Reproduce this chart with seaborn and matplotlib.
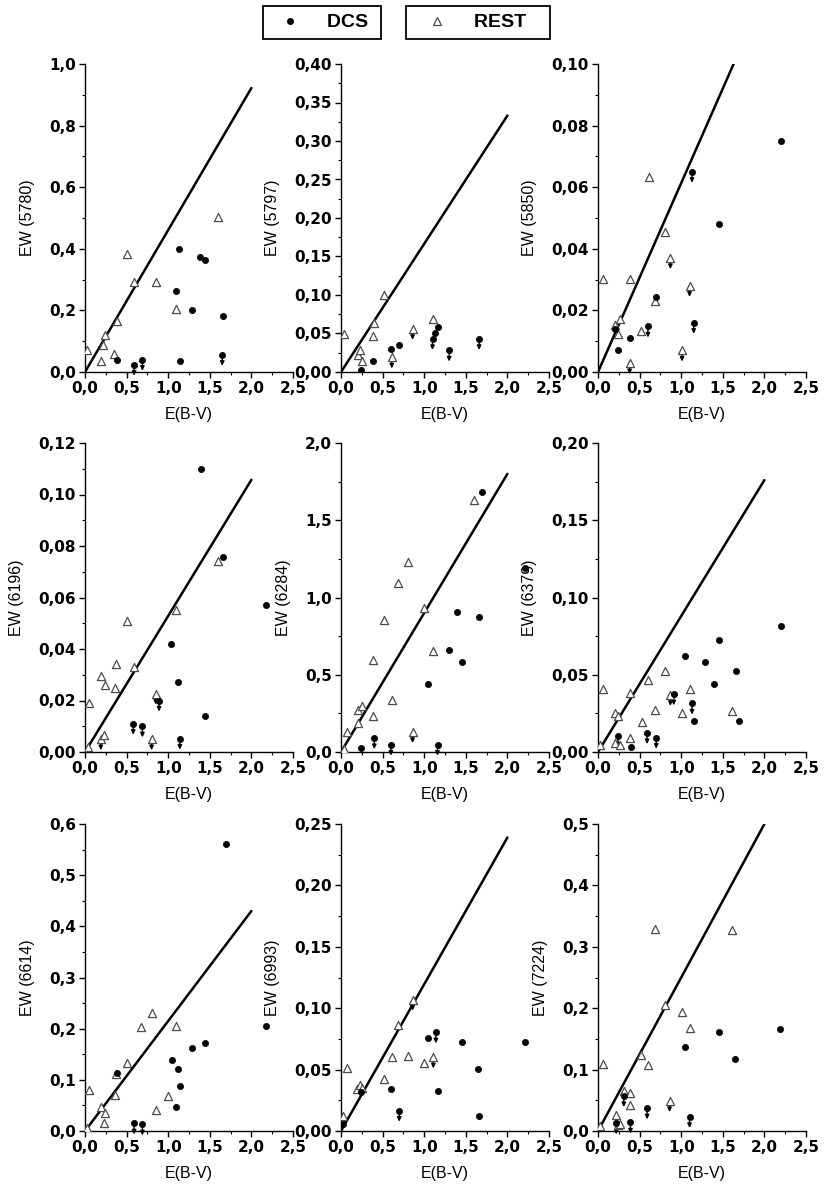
import numpy as np
import matplotlib
matplotlib.use('Agg')
import matplotlib.pyplot as plt
from matplotlib.ticker import MultipleLocator
from matplotlib.lines import Line2D
import seaborn as sns

sns.set_style('ticks')
plt.rcParams['font.family'] = ['Liberation Sans', 'DejaVu Sans']
plt.rcParams.update({'text.color': 'black', 'axes.labelcolor': 'black',
                     'axes.edgecolor': 'black', 'xtick.color': 'black',
                     'ytick.color': 'black'})

# ---- data: E(B-V) vs EW, flag 1 = upper limit (arrow) ----
bands = ['5780', '5797', '5850', '6196', '6284', '6379', '6614', '6993', '7224']

rest_5780_x = [0.03, 0.19, 0.22, 0.24, 0.35, 0.38, 0.51, 0.59, 0.85, 1.09, 1.60]
rest_5780_y = [0.07, 0.037, 0.089, 0.12, 0.06, 0.165, 0.384, 0.292, 0.292, 0.205, 0.502]
rest_5780_lim = [0, 0, 0, 0, 0, 0, 0, 0, 0, 0, 0]
dcs_5780_x = [0.39, 0.59, 0.69, 1.14, 1.09, 1.13, 1.38, 1.44, 1.29, 1.66, 1.65]
dcs_5780_y = [0.04, 0.024, 0.04, 0.035, 0.264, 0.40, 0.372, 0.365, 0.20, 0.181, 0.056]
dcs_5780_lim = [0, 1, 1, 0, 0, 0, 0, 0, 0, 0, 1]

rest_5797_x = [0.036, 0.20, 0.23, 0.25, 0.38, 0.40, 0.52, 0.61, 0.86, 1.10]
rest_5797_y = [0.0498, 0.0225, 0.028, 0.014, 0.047, 0.063, 0.100, 0.019, 0.056, 0.069]
rest_5797_lim = [0, 0, 0, 0, 0, 0, 0, 1, 1, 0]
dcs_5797_x = [0.24, 0.39, 0.60, 0.70, 1.10, 1.13, 1.16, 1.30, 1.66]
dcs_5797_y = [0.003, 0.014, 0.030, 0.0355, 0.043, 0.051, 0.058, 0.028, 0.043]
dcs_5797_lim = [0, 0, 0, 0, 1, 0, 0, 1, 1]

rest_5850_x = [0.06, 0.21, 0.24, 0.26, 0.38, 0.39, 0.52, 0.61, 0.68, 0.81, 0.87, 1.01, 1.10]
rest_5850_y = [0.0302, 0.0154, 0.0124, 0.0172, 0.0029, 0.0302, 0.0132, 0.0632, 0.0232,
               0.0453, 0.037, 0.007, 0.028]
rest_5850_lim = [0, 0, 0, 0, 1, 0, 0, 0, 0, 0, 1, 1, 1]
dcs_5850_x = [0.21, 0.24, 0.39, 0.60, 0.70, 1.13, 1.15, 1.45, 2.20]
dcs_5850_y = [0.014, 0.007, 0.011, 0.0148, 0.0242, 0.065, 0.016, 0.048, 0.075]
dcs_5850_lim = [0, 0, 0, 1, 0, 1, 1, 0, 0]

rest_6196_x = [0.04, 0.05, 0.19, 0.19, 0.23, 0.24, 0.36, 0.37, 0.51, 0.59, 0.80, 0.85, 1.09, 1.60]
rest_6196_y = [0.002, 0.0192, 0.0294, 0.005, 0.0065, 0.026, 0.025, 0.034, 0.051, 0.033,
               0.005, 0.0227, 0.055, 0.0742]
rest_6196_lim = [0, 0, 0, 1, 0, 0, 0, 0, 0, 0, 1, 1, 0, 0]
dcs_6196_x = [0.58, 0.69, 0.89, 1.03, 1.12, 1.14, 1.39, 1.44, 1.66, 2.18]
dcs_6196_y = [0.011, 0.010, 0.020, 0.042, 0.027, 0.0052, 0.110, 0.014, 0.0759, 0.057]
dcs_6196_lim = [1, 1, 1, 0, 0, 1, 0, 0, 0, 0]

rest_6284_x = [0.04, 0.07, 0.20, 0.21, 0.25, 0.38, 0.39, 0.52, 0.61, 0.69, 0.80, 0.86, 1.00, 1.10, 1.60]
rest_6284_y = [0.022, 0.13, 0.27, 0.19, 0.30, 0.23, 0.595, 0.854, 0.335, 1.096, 1.232, 0.13,
               0.93, 0.655, 1.632]
rest_6284_lim = [0, 0, 0, 0, 0, 0, 0, 0, 0, 0, 0, 1, 0, 0, 0]
dcs_6284_x = [0.24, 0.40, 0.60, 1.05, 1.16, 1.30, 1.40, 1.45, 1.66, 1.70, 2.21]
dcs_6284_y = [0.026, 0.09, 0.048, 0.439, 0.048, 0.66, 0.904, 0.58, 0.871, 1.686, 1.194]
dcs_6284_lim = [0, 1, 1, 0, 1, 0, 0, 0, 0, 0, 0]

rest_6379_x = [0.02, 0.06, 0.20, 0.21, 0.24, 0.26, 0.38, 0.39, 0.53, 0.60, 0.69, 0.81, 0.87,
               1.01, 1.11, 1.61]
rest_6379_y = [0.0043, 0.041, 0.0255, 0.0058, 0.0234, 0.0048, 0.0093, 0.0383, 0.0195, 0.0465,
               0.0275, 0.0525, 0.037, 0.0255, 0.0406, 0.0266]
rest_6379_lim = [0, 0, 0, 0, 0, 0, 0, 0, 0, 0, 0, 0, 1, 0, 0, 0]
dcs_6379_x = [0.24, 0.40, 0.59, 0.70, 0.91, 1.05, 1.13, 1.15, 1.29, 1.40, 1.45, 1.66, 1.70, 2.20]
dcs_6379_y = [0.0102, 0.0032, 0.0123, 0.0093, 0.0374, 0.062, 0.0314, 0.020, 0.0584, 0.0439,
              0.0724, 0.0525, 0.020, 0.0817]
dcs_6379_lim = [1, 0, 1, 1, 1, 0, 1, 0, 0, 0, 0, 0, 0, 0]

rest_6614_x = [0.03, 0.05, 0.19, 0.23, 0.24, 0.36, 0.37, 0.51, 0.67, 0.80, 0.85, 1.00, 1.09]
rest_6614_y = [0.0065, 0.080, 0.046, 0.016, 0.036, 0.070, 0.111, 0.132, 0.203, 0.2315,
               0.041, 0.068, 0.206]
rest_6614_lim = [0, 0, 0, 0, 0, 0, 0, 0, 0, 0, 0, 0, 0]
dcs_6614_x = [0.39, 0.59, 0.69, 1.04, 1.09, 1.12, 1.14, 1.29, 1.44, 1.70, 2.18]
dcs_6614_y = [0.113, 0.015, 0.013, 0.139, 0.046, 0.121, 0.087, 0.162, 0.172, 0.560, 0.205]
dcs_6614_lim = [0, 1, 1, 0, 0, 0, 0, 0, 0, 0, 0]

rest_6993_x = [0.02, 0.07, 0.19, 0.23, 0.25, 0.52, 0.61, 0.68, 0.81, 0.86, 1.00, 1.11]
rest_6993_y = [0.0122, 0.051, 0.034, 0.0375, 0.035, 0.042, 0.060, 0.0864, 0.0614, 0.107,
               0.0557, 0.060]
rest_6993_lim = [0, 0, 0, 0, 0, 0, 0, 0, 0, 1, 0, 1]
dcs_6993_x = [0.02, 0.24, 0.60, 0.70, 1.05, 1.14, 1.16, 1.45, 1.65, 1.66, 2.21]
dcs_6993_y = [0.0054, 0.032, 0.034, 0.0166, 0.0755, 0.0804, 0.0326, 0.0728, 0.0503, 0.0125, 0.0728]
dcs_6993_lim = [0, 0, 0, 1, 0, 1, 0, 0, 0, 0, 0]

rest_7224_x = [0.02, 0.06, 0.22, 0.24, 0.26, 0.31, 0.38, 0.38, 0.52, 0.60, 0.68, 0.81, 0.86,
               1.01, 1.11, 1.61]
rest_7224_y = [0.008, 0.109, 0.026, 0.0098, 0.012, 0.065, 0.0625, 0.042, 0.123, 0.108, 0.329,
               0.205, 0.049, 0.193, 0.167, 0.328]
rest_7224_lim = [0, 0, 0, 0, 0, 0, 0, 0, 0, 0, 0, 0, 1, 0, 0, 0]
dcs_7224_x = [0.22, 0.31, 0.39, 0.59, 1.05, 1.10, 1.45, 1.65, 2.19]
dcs_7224_y = [0.0125, 0.057, 0.014, 0.037, 0.136, 0.023, 0.162, 0.117, 0.166]
dcs_7224_lim = [1, 1, 1, 1, 0, 1, 0, 0, 0]

# reference line: from origin up to E(B-V)=2.0
line_x = [0.0, 2.0]
line_end = [0.922, 0.333, 0.1227, 0.1057, 1.80, 0.176, 0.430, 0.239, 0.50]

y_max = [1.0, 0.40, 0.10, 0.12, 2.0, 0.20, 0.6, 0.25, 0.5]
y_step = [0.2, 0.05, 0.02, 0.02, 0.5, 0.05, 0.1, 0.05, 0.1]
y_dec = [1, 2, 2, 2, 1, 2, 1, 2, 1]
x_ticks = [0.0, 0.5, 1.0, 1.5, 2.0, 2.5]

g = globals()

# ---- layout (pixels of the 830x1202 picture) ----
W, H = 830.0, 1202.0
col_left = [85, 341, 598]
row_top = [64, 443, 824]
row_bot = [372, 752, 1131]
ax_w = 208

fig = plt.figure(figsize=(8.3, 12.02), dpi=100)

tick_font = dict(fontfamily='DejaVu Sans', fontweight='bold', fontsize=11)


def comma(v, d):
    return f'{v:.{d}f}'.replace('.', ',')


for i, b in enumerate(bands):
    r, c = divmod(i, 3)
    ax = fig.add_axes([col_left[c] / W, 1 - row_bot[r] / H, ax_w / W,
                       (row_bot[r] - row_top[r]) / H])

    sns.lineplot(x=line_x, y=[0.0, line_end[i]], color='black', lw=1.8, ax=ax, zorder=1)

    rx, ry, rl = g[f'rest_{b}_x'], g[f'rest_{b}_y'], g[f'rest_{b}_lim']
    dx, dy, dl = g[f'dcs_{b}_x'], g[f'dcs_{b}_y'], g[f'dcs_{b}_lim']

    # upper-limit arrows
    for xs, ys, ls in [(rx, ry, rl), (dx, dy, dl)]:
        for xv, yv, lv in zip(xs, ys, ls):
            if lv:
                ax.annotate('', xy=(xv, yv), xytext=(0, -8), textcoords='offset points',
                            arrowprops=dict(arrowstyle='<|-,head_length=0.25,head_width=0.12',
                                            color='black', lw=1.0, shrinkA=0, shrinkB=0),
                            zorder=2)

    sns.scatterplot(x=rx, y=ry, marker='^', s=34, color='white', edgecolor='#4d4d4d',
                    linewidth=0.9, ax=ax, zorder=3)
    sns.scatterplot(x=dx, y=dy, marker='o', s=20, color='black', edgecolor='black',
                    linewidth=0.5, ax=ax, zorder=4)

    ax.set_xlim(0, 2.5)
    ax.set_ylim(0, y_max[i])
    yt = np.round(np.arange(0, y_max[i] + y_step[i] / 2, y_step[i]), 4)
    ax.set_yticks(yt, [comma(v, y_dec[i]) for v in yt], **tick_font)
    ax.set_xticks(x_ticks, [comma(v, 1) for v in x_ticks], **tick_font)
    ax.yaxis.set_minor_locator(MultipleLocator(y_step[i] / 2))
    ax.xaxis.set_minor_locator(MultipleLocator(0.25))
    ax.tick_params(which='major', direction='out', length=4, width=1, pad=2.5)
    ax.tick_params(which='minor', direction='out', length=2.5, width=0.8)
    for s in ['left', 'bottom']:
        ax.spines[s].set_linewidth(1.0)
    sns.despine(ax=ax)

    ax.set_ylabel(f'EW ({b})', fontsize=11.5, labelpad=10)
    ax.set_xlabel('E(B-V)', fontsize=11.5, labelpad=8)

# ---- two framed legend boxes at the top ----
h_dcs = Line2D([], [], marker='o', ls='none', color='black', markersize=4)
h_rest = Line2D([], [], marker='^', ls='none', markerfacecolor='white',
                markeredgecolor='#4d4d4d', markersize=5.5, markeredgewidth=0.9)
leg_font = dict(family='Liberation Sans', weight='bold', size=14)
for h, lab, xl, hl, tp in [(h_dcs, 'DCS ', 263, 2.0, 0.9), (h_rest, 'REST   ', 406, 2.4, 0.7)]:
    leg = fig.legend(handles=[h], labels=[lab], loc='upper left',
                     bbox_to_anchor=(xl / W, 1 - 6 / H), borderaxespad=0,
                     frameon=True, fancybox=False, edgecolor='black', framealpha=1,
                     prop=leg_font, handlelength=hl, handletextpad=tp, borderpad=0.4)
    leg.get_frame().set_linewidth(1.3)

fig.savefig('out.png', dpi=100)
